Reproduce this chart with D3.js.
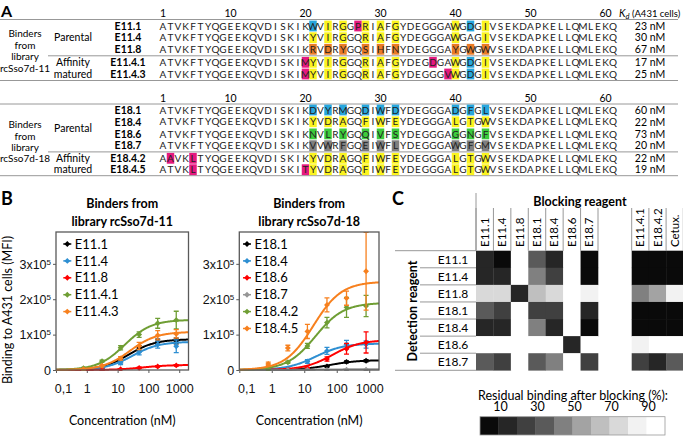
<!DOCTYPE html>
<html><head><meta charset="utf-8">
<script src="https://cdn.jsdelivr.net/npm/d3@7"></script>
<style>
body{margin:0;background:#fff}
svg{display:block;font-family:Lato,"Open Sans",sans-serif}
</style></head><body>
<svg width="683" height="437"></svg>
<script>

// ---------- panel A: sequences ----------
var numLabels = [1, 10, 20, 30, 40, 50, 60];
var libPos = [21, 23, 25, 28, 30, 32, 40, 42, 44];

var names11 = ["E11.1", "E11.4", "E11.8", "E11.4.1", "E11.4.3"];
var seqs11 = [
  "ATVKFTYQGEEKQVDISKIKWVIRGGPRIAFGYDEGGGAWGDGIVSEKDAPKELLQMLEKQ",
  "ATVKFTYQGEEKQVDISKIKYVIRGGQRIAFGYDEGGGAWGAGIVSEKDAPKELLQMLEKQ",
  "ATVKFTYQGEEKQVDISKIKRVDRYGQSIHFNYDEGGGAYGWGWVSEKDAPKELLQMLEKQ",
  "ATVKFTYQGEEKQVDISKIMYVIRGGQRIAFGYDEGDGAWGDGIVSEKDAPKELLQMLEKQ",
  "ATVKFTYQGEEKQVDISKIMYVIRGGQRIAFGYDEGGGVWGDGIVSEKDAPKELLQMLEKQ"
];
var codes11 = ["byyyyyyby", "yyyyyyy.y", "ooooooooo", "yyyyyyyby", "yyyyyyyby"];
var pinks11 = [[27], [], [], [20, 37], [20, 39]];
var kd11 = [23, 30, 67, 17, 25];

var names18 = ["E18.1", "E18.4", "E18.6", "E18.7", "E18.4.2", "E18.4.5"];
var seqs18 = [
  "ATVKFTYQGEEKQVDISKIKDVYRMGQDIWFDYDEGGGADGFGLVSEKDAPKELLQMLEKQ",
  "ATVKFTYQGEEKQVDISKIKYVDRAGQFIWFEYDEGGGALGTGWVSEKDAPKELLQMLEKQ",
  "ATVKFTYQGEEKQVDISKIKNVLRYGQQIVFSYDEGGGAGGNGFVSEKDAPKELLQMLEKQ",
  "ATVKFTYQGEEKQVDISKIKVVWRFGQEIWFLYDEGGGAWGFGMVSEKDAPKELLQMLEKQ",
  "AAVKLTYQGEEKQVDISKIKYVDRAGQFIWFEYDEGGGALGTGWVSEKDAPKELLQMLEKQ",
  "ATVKLTYQGEEKQVDISKITYVDRAGQFIWFEYDEGGGALGTGWVSEKDAPKELLQMLEKQ"
];
var codes18 = ["bbbbbbbbb", "yyyyyyyyy", "ggggggggg", "kkkkkkkkk", "yyyyyyyyy", "yyyyyyyyy"];
var pinks18 = [[], [], [], [], [2, 5], [5, 20]];
var kd18 = [60, 22, 73, 20, 22, 19];

// ---------- panel B: binding curves ----------
var conc = [0.78, 3.125, 12.5, 50, 200, 800];
var yTicks = [0, 1, 2, 3];
var xTicks = [0.1, 1, 10, 100, 1000];
var xTickLabels = ["0,1", "1", "10", "100", "1000"];

var bind11 = [
  {name: "E11.1",   color: "#000000", bmax: 0.87, kd: 23, y: [0.01, 0.05, 0.27, 0.62, 0.80, 0.82], e: [0.01, 0.02, 0.04, 0.07, 0.07, 0.08]},
  {name: "E11.4",   color: "#2e8fd2", bmax: 0.80, kd: 30, y: [0.01, 0.04, 0.20, 0.50, 0.72, 0.67], e: [0.01, 0.02, 0.05, 0.07, 0.10, 0.18]},
  {name: "E11.8",   color: "#ff0000", bmax: 0.145, kd: 67, y: [0.00, 0.00, 0.02, 0.06, 0.10, 0.13], e: [0.01, 0.01, 0.01, 0.02, 0.02, 0.02]},
  {name: "E11.4.1", color: "#6f9e34", bmax: 1.42, kd: 17, y: [0.05, 0.25, 0.63, 1.00, 1.32, 1.41], e: [0.02, 0.03, 0.06, 0.08, 0.14, 0.25]},
  {name: "E11.4.3", color: "#f7801e", bmax: 1.08, kd: 25, y: [0.02, 0.12, 0.33, 0.68, 0.98, 1.02], e: [0.02, 0.03, 0.05, 0.10, 0.13, 0.12]}
];
var bind18 = [
  {name: "E18.1",   color: "#000000", bmax: 0.28, kd: 60, y: [0.00, 0.00, 0.02, 0.10, 0.23, 0.26], e: [0.01, 0.01, 0.01, 0.02, 0.03, 0.03]},
  {name: "E18.4",   color: "#2e8fd2", bmax: 0.75, kd: 22, y: [0.00, 0.03, 0.24, 0.54, 0.72, 0.72], e: [0.01, 0.02, 0.05, 0.10, 0.12, 0.10]},
  {name: "E18.6",   color: "#ff0000", bmax: 0.85, kd: 73, y: [0.00, 0.00, 0.05, 0.31, 0.60, 0.78], e: [0.01, 0.01, 0.02, 0.06, 0.15, 0.30]},
  {name: "E18.7",   color: "#969696", bmax: 0.02, kd: 20, y: [0.00, 0.00, 0.00, 0.00, 0.01, 0.01], e: [0.01, 0.01, 0.01, 0.01, 0.01, 0.01]},
  {name: "E18.4.2", color: "#6f9e34", bmax: 1.90, kd: 22, y: [0.02, 0.22, 0.68, 1.34, 1.77, 1.81], e: [0.02, 0.03, 0.07, 0.15, 0.28, 0.30]},
  {name: "E18.4.5", color: "#f7801e", bmax: 2.50, kd: 19, y: [0.17, 0.62, 1.09, 1.84, 2.03, 2.79], e: [0.05, 0.08, 0.20, 0.20, 0.20, 1.10]}
];

// ---------- panel C: competition heatmap (residual binding, %) ----------
var blockCols = ["E11.1", "E11.4", "E11.8", "E18.1", "E18.4", "E18.6", "E18.7"];
var blockCols2 = ["E11.4.1", "E18.4.2", "Cetux."];
var detectRows = ["E11.1", "E11.4", "E11.8", "E18.1", "E18.4", "E18.6", "E18.7"];
var residual = [
  [15, 5, 95, 35, 15, 95, 5],
  [15, 15, 95, 45, 25, 95, 5],
  [75, 75, 15, 65, 75, 95, 85],
  [35, 25, 95, 25, 25, 95, 15],
  [15, 15, 95, 45, 15, 95, 5],
  [95, 95, 95, 95, 95, 15, 95],
  [35, 25, 95, 35, 45, 95, 25]
];
var residual2 = [
  [5, 5, 5],
  [5, 5, 5],
  [45, 55, 85],
  [5, 5, 5],
  [5, 5, 5],
  [85, 95, 95],
  [25, 15, 35]
];
var legendTicks = [10, 30, 50, 70, 90];

var svg = d3.select("svg");
var grey = "#8c8c8c";

// ================= A =================
svg.append("text").attr("x", 1).attr("y", 16.5).attr("font-size", 16).attr("font-weight", "bold").text("A");

var xSeq = d3.scaleBand().domain(d3.range(1, 62)).range([159.25, 616.75]);
var hlFill = {y: "#fbf41f", b: "#27a6dd", o: "#ea7b26", p: "#e5197f", g: "#3ccb3c", k: "#7f7f7f"};

function drawBlock(names, seqs, codes, pinks, kds, rowY, cfg) {
  var g = svg.append("g");
  g.selectAll(".num").data(numLabels).enter().append("text")
    .attr("x", function(d) { return xSeq(d) + xSeq.bandwidth() / 2; })
    .attr("y", cfg.numY + 3.7).attr("text-anchor", "middle").attr("font-size", 10.5).text(function(d) { return d; });

  [cfg.top, cfg.bottom].forEach(function(y) {
    g.append("line").attr("x1", 0).attr("x2", 678).attr("y1", y).attr("y2", y).attr("stroke", grey).attr("stroke-width", 0.9);
  });
  g.append("line").attr("x1", 48).attr("x2", 678).attr("y1", cfg.sep).attr("y2", cfg.sep).attr("stroke", grey).attr("stroke-width", 0.9);

  names.forEach(function(name, i) {
    var y = rowY[i];
    var hl = {};
    libPos.forEach(function(p, j) { if (codes[i][j] !== ".") hl[p] = codes[i][j]; });
    pinks[i].forEach(function(p) { hl[p] = "p"; });
    var r = g.append("g");
    r.selectAll("rect").data(Object.keys(hl)).enter().append("rect")
      .attr("x", function(p) { return xSeq(+p); }).attr("y", y - 5.4)
      .attr("width", xSeq.bandwidth()).attr("height", 10.8)
      .attr("fill", function(p) { return hlFill[hl[p]]; });
    r.selectAll("text").data(seqs[i].split("")).enter().append("text")
      .attr("x", function(c, k) { return xSeq(k + 1) + xSeq.bandwidth() / 2; })
      .attr("y", y + 3.6).attr("text-anchor", "middle").attr("font-size", 10).attr("fill", "#222")
      .text(function(c) { return c; });
    g.append("text").attr("x", 128).attr("y", y + 3.7).attr("text-anchor", "middle")
      .attr("font-size", 10.5).attr("font-weight", "bold").text(name);
    g.append("text").attr("x", 650).attr("y", y + 3.7).attr("text-anchor", "middle")
      .attr("font-size", 10.5).text(kds[i] + " nM");
  });

  cfg.left.forEach(function(t) {
    g.append("text").attr("x", 25).attr("y", t[1] + 3.6).attr("text-anchor", "middle").attr("font-size", 10).text(t[0]);
  });
  cfg.group.forEach(function(t) {
    g.append("text").attr("x", 73).attr("y", t[1] + 3.6).attr("text-anchor", "middle").attr("font-size", 10.5).text(t[0]);
  });
}

drawBlock(names11, seqs11, codes11, pinks11, kd11, [26, 37.7, 49.3, 62.3, 74], {
  numY: 13, top: 19.5, sep: 55.8, bottom: 80.5,
  left: [["Binders", 33.3], ["from", 45], ["library", 56.7], ["rcSso7d-11", 68.3]],
  group: [["Parental", 37.7], ["Affinity", 62.3], ["matured", 74]]
});
drawBlock(names18, seqs18, codes18, pinks18, kd18, [110, 121.8, 133.9, 145.7, 158.3, 169.7], {
  numY: 98, top: 104, sep: 151.9, bottom: 175.7,
  left: [["Binders", 124.3], ["from", 136], ["library", 147.3], ["rcSso7d-18", 158.5]],
  group: [["Parental", 128.3], ["Affinity", 158.3], ["matured", 169.7]]
});

var kdLab = svg.append("text").attr("x", 619).attr("y", 16.5).attr("font-size", 10.5);
kdLab.append("tspan").attr("font-style", "italic").text("K");
kdLab.append("tspan").attr("font-style", "italic").attr("font-size", 7.5).attr("dy", 2).text("d");
kdLab.append("tspan").attr("font-size", 9.5).attr("dy", -2).text(" (A431 cells)");

// ================= B =================
svg.append("text").attr("x", 1).attr("y", 205).attr("font-size", 18).attr("font-weight", "bold").text("B");

var yScale = d3.scaleLinear().domain([0, 3.9]).range([370, 232]);

function drawPlot(series, x0, x1, title, legX) {
  var x = d3.scaleLog().domain([0.1, 2000]).range([x0, x1]);
  var g = svg.append("g");
  var cx = (x0 + x1) / 2;
  g.append("text").attr("x", cx).attr("y", 208).attr("text-anchor", "middle").attr("font-size", 12.5).attr("font-weight", "bold").text("Binders from");
  g.append("text").attr("x", cx).attr("y", 225.5).attr("text-anchor", "middle").attr("font-size", 12.5).attr("font-weight", "bold").text(title);

  var ya = g.append("g").attr("transform", "translate(" + x0 + ",0)")
    .call(d3.axisLeft(yScale).tickValues(yTicks).tickSize(3).tickPadding(2).tickFormat(function() { return ""; }));
  ya.select(".domain").remove();
  ya.selectAll(".tick line").attr("stroke", "#595959");
  ya.selectAll(".tick text").each(function(d) {
    var t = d3.select(this).attr("font-size", 12.5).attr("font-family", null).attr("fill", "#111").attr("dy", "0.35em");
    if (d === 0) { t.text("0"); return; }
    t.append("tspan").text(d + "x10");
    t.append("tspan").attr("font-size", 8).attr("dy", "-0.5em").text("5");
  });

  var xa = g.append("g").attr("transform", "translate(0,370)")
    .call(d3.axisBottom(x).tickValues(xTicks).tickSize(3).tickPadding(11).tickFormat(function(d, i) { return xTickLabels[i]; }));
  xa.select(".domain").remove();
  xa.selectAll(".tick line").attr("stroke", "#595959");
  xa.selectAll(".tick text").attr("font-size", 12.5).attr("font-family", null).attr("fill", "#111")
    .attr("dx", function(d, i) { return i === 0 ? 7 : 0; });

  g.append("text").attr("x", cx).attr("y", 424.5).attr("text-anchor", "middle").attr("font-size", 12.5).text("Concentration (nM)");

  var clipId = "clip" + Math.round(x0);
  g.append("clipPath").attr("id", clipId).append("rect").attr("x", x0).attr("y", 232).attr("width", x1 - x0).attr("height", 139);
  var plot = g.append("g").attr("clip-path", "url(#" + clipId + ")");

  var grid = d3.range(0, 200).map(function(i) { return Math.pow(10, -1 + i * Math.log10(20000) / 199); });
  var line = d3.line().x(function(d) { return x(d[0]); }).y(function(d) { return yScale(d[1]); });

  series.forEach(function(s) {
    var sg = plot.append("g");
    sg.append("path").datum(grid.map(function(c) { return [c, s.bmax * c / (s.kd + c)]; }))
      .attr("d", line).attr("fill", "none").attr("stroke", s.color).attr("stroke-width", 2);
    conc.forEach(function(c, i) {
      var px = x(c), y0 = yScale(s.y[i] - s.e[i]), y1 = yScale(s.y[i] + s.e[i]);
      sg.append("path").attr("d", "M" + px + "," + y0 + "V" + y1 + "M" + (px - 2.5) + "," + y1 + "H" + (px + 2.5) + "M" + (px - 2.5) + "," + y0 + "H" + (px + 2.5))
        .attr("stroke", s.color).attr("stroke-width", 1.3).attr("fill", "none");
    });
    sg.selectAll(".pt").data(conc).enter().append("path")
      .attr("transform", function(c, i) { return "translate(" + x(c) + "," + yScale(s.y[i]) + ")"; })
      .attr("d", d3.symbol(d3.symbolDiamond2, 22)).attr("fill", s.color);
  });

  g.append("rect").attr("x", x0).attr("y", 232).attr("width", x1 - x0).attr("height", 138)
    .attr("fill", "none").attr("stroke", "#595959").attr("stroke-width", 1.3);

  series.forEach(function(s, i) {
    var y = 244 + i * 16.9;
    g.append("line").attr("x1", legX - 4).attr("x2", legX + 4).attr("y1", y).attr("y2", y).attr("stroke", s.color).attr("stroke-width", 1.5);
    g.append("path").attr("transform", "translate(" + legX + "," + y + ")").attr("d", d3.symbol(d3.symbolDiamond2, 22)).attr("fill", s.color);
    g.append("text").attr("x", legX + 7.5).attr("y", y + 4.6).attr("font-size", 13).text(s.name);
  });
}

drawPlot(bind11, 56, 188.5, "library rcSso7d-11", 67.3);
drawPlot(bind18, 239.3, 379, "library rcSso7d-18", 247);

svg.append("text").attr("transform", "translate(12,310) rotate(-90)").attr("text-anchor", "middle").attr("font-size", 12.5).text("Binding to A431 cells (MFI)");

// ================= C =================
svg.append("text").attr("x", 392).attr("y", 205).attr("font-size", 18).attr("font-weight", "bold").text("C");

var greys = ["#0a0a0a", "#262626", "#404040", "#5a5a5a", "#808080", "#a3a3a3", "#bfbfbf", "#d9d9d9", "#f2f2f2", "#ffffff"];
var colour = d3.scaleQuantize().domain([0, 100]).range(greys);
var xc1 = d3.scaleBand().domain(blockCols).range([476, 598]);
var xc2 = d3.scaleBand().domain(blockCols2).range([631.7, 683.3]);
var yc = d3.scaleBand().domain(detectRows).range([250.7, 370.3]);
var lineCol = "#8c8c8c";

var hm = svg.append("g");
function cells(cols, xs, vals) {
  detectRows.forEach(function(r, i) {
    hm.selectAll(null).data(cols).enter().append("rect")
      .attr("x", function(c) { return xs(c); }).attr("y", yc(r))
      .attr("width", xs.bandwidth() + 0.3).attr("height", yc.bandwidth() + 0.3)
      .attr("fill", function(c, j) { return colour(vals[i][j]); });
  });
  // header separators and labels
  hm.selectAll(null).data(cols.concat([null])).enter().append("line")
    .attr("x1", function(c, j) { return xs.range()[0] + j * xs.bandwidth(); })
    .attr("x2", function(c, j) { return xs.range()[0] + j * xs.bandwidth(); })
    .attr("y1", 208).attr("y2", 250.7).attr("stroke", lineCol).attr("stroke-width", 0.9);
  hm.selectAll(null).data(cols).enter().append("text")
    .attr("transform", function(c) { return "translate(" + (xs(c) + xs.bandwidth() / 2 + 4) + ",247) rotate(-90)"; })
    .attr("font-size", 11.5).text(function(c) { return c; });
}
cells(blockCols, xc1, residual);
cells(blockCols2, xc2, residual2);

hm.append("line").attr("x1", 476).attr("x2", 476).attr("y1", 193).attr("y2", 250.7).attr("stroke", lineCol).attr("stroke-width", 0.9);
hm.append("text").attr("x", 580).attr("y", 206).attr("text-anchor", "middle").attr("font-size", 12.5).attr("font-weight", "bold").text("Blocking reagent");

detectRows.forEach(function(r, i) {
  hm.append("text").attr("x", 453).attr("y", yc(r) + yc.bandwidth() / 2 + 4.3).attr("text-anchor", "middle").attr("font-size", 12).text(r);
  if (i > 0) hm.append("line").attr("x1", 420).attr("x2", 476).attr("y1", yc(r)).attr("y2", yc(r)).attr("stroke", lineCol).attr("stroke-width", 0.9);
});
[250.7, 370.3].forEach(function(y) {
  hm.append("line").attr("x1", 395).attr("x2", 476).attr("y1", y).attr("y2", y).attr("stroke", lineCol).attr("stroke-width", 0.9);
});
hm.append("text").attr("transform", "translate(417,311) rotate(-90)").attr("text-anchor", "middle").attr("font-size", 12.5).attr("font-weight", "bold").text("Detection reagent");

// legend
var lx = d3.scaleLinear().domain([0, 100]).range([480, 665]);
hm.append("text").attr("x", 573).attr("y", 399.5).attr("text-anchor", "middle").attr("font-size", 12.5).text("Residual binding after blocking (%):");
hm.selectAll(null).data(legendTicks).enter().append("text")
  .attr("x", function(d) { return lx(d) + 2; }).attr("y", 411).attr("text-anchor", "middle").attr("font-size", 12.5).text(function(d) { return d; });
hm.selectAll(null).data(greys).enter().append("rect")
  .attr("x", function(d, i) { return lx(i * 10); }).attr("y", 416.7)
  .attr("width", lx(10) - lx(0) + 0.3).attr("height", 18.3).attr("fill", function(d) { return d; });
hm.append("rect").attr("x", 480).attr("y", 416.7).attr("width", 185).attr("height", 18.3).attr("fill", "none").attr("stroke", "#999").attr("stroke-width", 0.8);

</script>
</body></html>
